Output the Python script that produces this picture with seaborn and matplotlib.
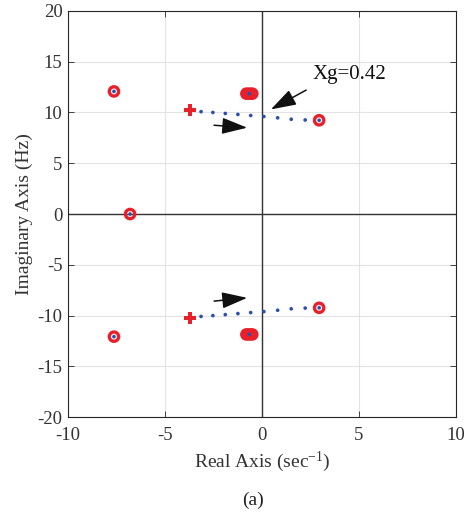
import numpy as np
import pandas as pd
import matplotlib
matplotlib.use("Agg")
import matplotlib.pyplot as plt
import seaborn as sns

# ---- data ----
# locus (upper branch), lower branch is the conjugate
locus_re = [-3.14, -2.53, -1.89, -1.24, -0.58, 0.10, 0.81, 1.51, 2.23]
locus_im = [10.08, 10.00, 9.90, 9.80, 9.70, 9.60, 9.47, 9.33, 9.26]
start_re = [-3.70, -3.70]
start_im = [10.20, -10.25]
end_re = [2.95, 2.95]
end_im = [9.23, -9.23]
# stationary poles (circles) and their pole dots
stat_re = [-7.63, -7.63, -6.80, -0.80, -0.65, -0.50, -0.80, -0.65, -0.50]
stat_im = [12.07, -12.07, 0.0, 11.85, 11.85, 11.85, -11.85, -11.85, -11.85]
pole_re = [-7.63, -7.63, -6.80, -0.65, -0.65, 2.95, 2.95]
pole_im = [12.07, -12.07, 0.0, 11.85, -11.85, 9.23, -9.23]
annot_text = "Xg=0.42"

sns.set_theme(style="white")
plt.rcParams["font.family"] = ["Liberation Serif", "DejaVu Serif"]
plt.rcParams["mathtext.fontset"] = "custom"
plt.rcParams["mathtext.rm"] = "Liberation Serif"
plt.rcParams["mathtext.it"] = "Liberation Serif:italic"
plt.rcParams["axes.unicode_minus"] = False

fig = plt.figure(figsize=(4.69, 5.17), dpi=100)
ax = fig.add_axes([0.145, 0.193, 0.827, 0.786])

red = "#e8202a"
blue = "#2b4fae"

dots = pd.DataFrame({
    "re": locus_re + locus_re,
    "im": locus_im + [-v for v in locus_im],
})
circ = pd.DataFrame({
    "re": stat_re + end_re,
    "im": stat_im + end_im,
})
starts = pd.DataFrame({"re": start_re, "im": start_im})
centers = pd.DataFrame({"re": pole_re, "im": pole_im})

# axes lines
ax.axhline(0, color="#333333", lw=1.0, zorder=1)
ax.axvline(0, color="#333333", lw=1.0, zorder=1)

sns.scatterplot(data=circ, x="re", y="im", ax=ax, marker="o", s=45,
                facecolor="none", edgecolor=red, linewidth=2.4, zorder=3)
sns.scatterplot(data=centers, x="re", y="im", ax=ax, marker="o", s=7,
                color=blue, edgecolor="none", linewidth=0, zorder=4)
sns.scatterplot(data=dots, x="re", y="im", ax=ax, marker="o", s=7,
                color=blue, edgecolor="none", linewidth=0, zorder=4)
sns.scatterplot(data=starts, x="re", y="im", ax=ax, marker="P", s=75,
                color=red, edgecolor="none", linewidth=0, zorder=5)

ax.set_xlim(-10, 10)
ax.set_ylim(-20, 20)
ax.set_xticks(np.arange(-10, 11, 5))
ax.set_yticks(np.arange(-20, 21, 5))
ax.grid(True, color="#e3e3e3", lw=0.8)
ax.set_axisbelow(True)
for s in ax.spines.values():
    s.set_color("#262626")
    s.set_linewidth(0.8)
ax.tick_params(direction="in", length=4, width=0.6, colors="#262626",
               labelsize=13.5, top=True, right=True, bottom=True, left=True,
               labelcolor="#333333")
ax.tick_params(axis="x", pad=7)
ax.tick_params(axis="y", pad=4)

ax.set_xlabel("Real Axis (sec$^{-1}$)", fontsize=14, color="#333333", labelpad=4)
ax.set_ylabel("Imaginary Axis (Hz)", fontsize=14, color="#333333", labelpad=3)

# annotations
arrow_kw = dict(arrowstyle="-|>,head_length=1.3,head_width=0.42", color="#111111",
                lw=1.1, shrinkA=0, shrinkB=0)
ax.annotate("", xy=(0.46, 10.3), xytext=(2.28, 12.2), arrowprops=arrow_kw)
ax.text(4.5, 13.7, annot_text, fontsize=15, ha="center", va="center", color="#111111")
ax.annotate("", xy=(-0.76, 8.5), xytext=(-2.47, 8.74), arrowprops=arrow_kw)
ax.annotate("", xy=(-0.76, -8.25), xytext=(-2.47, -8.57), arrowprops=arrow_kw)

fig.text(0.54, 1 - 500 / 517, "(a)", fontsize=14, ha="center", va="center", color="#222222")

fig.savefig("out.png", dpi=100)
